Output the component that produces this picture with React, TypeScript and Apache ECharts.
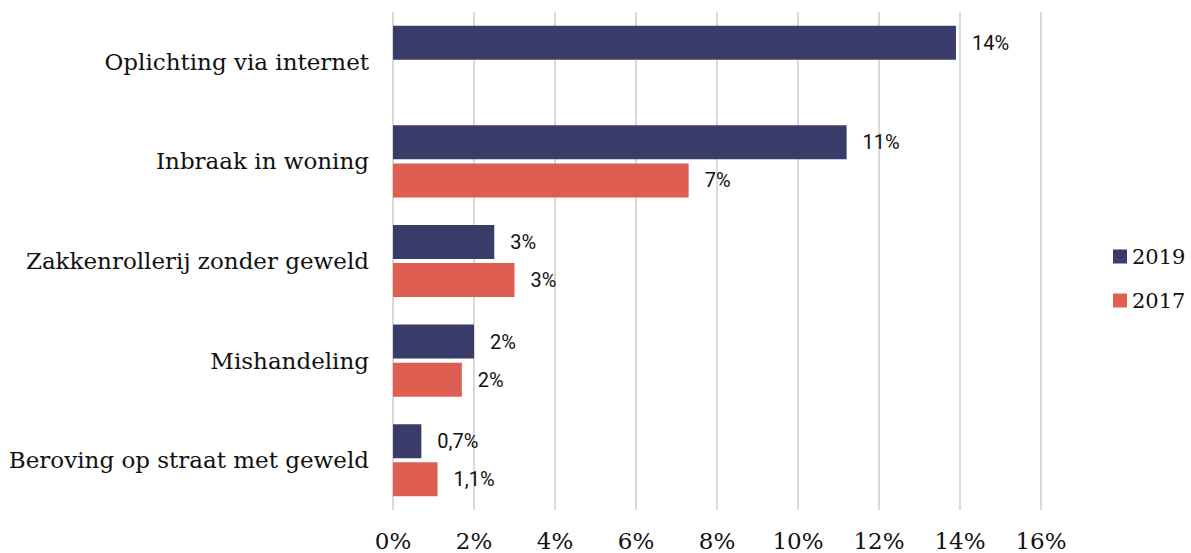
import React, { useEffect, useRef } from "react";
import * as echarts from "echarts";

const categories = [
  "Oplichting via internet",
  "Inbraak in woning",
  "Zakkenrollerij zonder geweld",
  "Mishandeling",
  "Beroving op straat met geweld",
];
const values2019 = [13.9, 11.2, 2.5, 2.0, 0.7];
const values2017: (number | null)[] = [null, 7.3, 3.0, 1.7, 1.1];
const labels2019 = ["14%", "11%", "3%", "2%", "0,7%"];
const labels2017 = ["", "7%", "3%", "2%", "1,1%"];
const xTicks = [0, 2, 4, 6, 8, 10, 12, 14, 16];

export default function App() {
  const ref = useRef<HTMLDivElement>(null);
  useEffect(() => {
    if (!ref.current) return;
    const chart = echarts.init(ref.current, undefined, { renderer: "svg" });
    const serif = "DejaVu Serif";
    const dataLabel = (labels: string[]) => ({
      show: true,
      position: "right",
      distance: 16,
      fontFamily: "Roboto",
      fontSize: 20,
      color: "#111",
      formatter: (p: any) => labels[p.dataIndex],
    });
    chart.setOption({
      animation: false,
      grid: { left: 393, right: 150, top: 12, bottom: 43, containLabel: false },
      legend: {
        orient: "vertical",
        left: 1108,
        top: 241,
        itemWidth: 14,
        itemHeight: 14,
        itemGap: 23,
        icon: "rect",
        textStyle: { fontFamily: serif, fontSize: 21, color: "#111" },
        data: ["2019", "2017"],
      },
      xAxis: {
        type: "value",
        min: xTicks[0],
        max: xTicks[xTicks.length - 1],
        interval: 2,
        axisLine: { show: false },
        axisTick: { show: false },
        splitLine: { show: true, lineStyle: { color: "#d9d9d9", width: 2 } },
        axisLabel: {
          formatter: (v: number) => `${v}%`,
          fontFamily: serif,
          fontSize: 23,
          color: "#111",
          margin: 19,
        },
      },
      yAxis: {
        type: "category",
        inverse: true,
        data: categories,
        axisLine: { show: false },
        axisTick: { show: false },
        axisLabel: {
          fontFamily: serif,
          fontSize: 23,
          color: "#111",
          margin: 24,
        },
      },
      series: [
        {
          name: "2019",
          type: "bar",
          data: values2019,
          barWidth: 34,
          barGap: "12%",
          itemStyle: { color: "#393c69" },
          label: dataLabel(labels2019),
        },
        {
          name: "2017",
          type: "bar",
          data: values2017,
          barWidth: 34,
          barGap: "12%",
          itemStyle: { color: "#df5e52" },
          label: dataLabel(labels2017),
        },
      ],
    });
    return () => chart.dispose();
  }, []);
  return (
    <div
      ref={ref}
      style={{ position: "absolute", left: 0, top: 0, width: 1191, height: 553 }}
    />
  );
}
